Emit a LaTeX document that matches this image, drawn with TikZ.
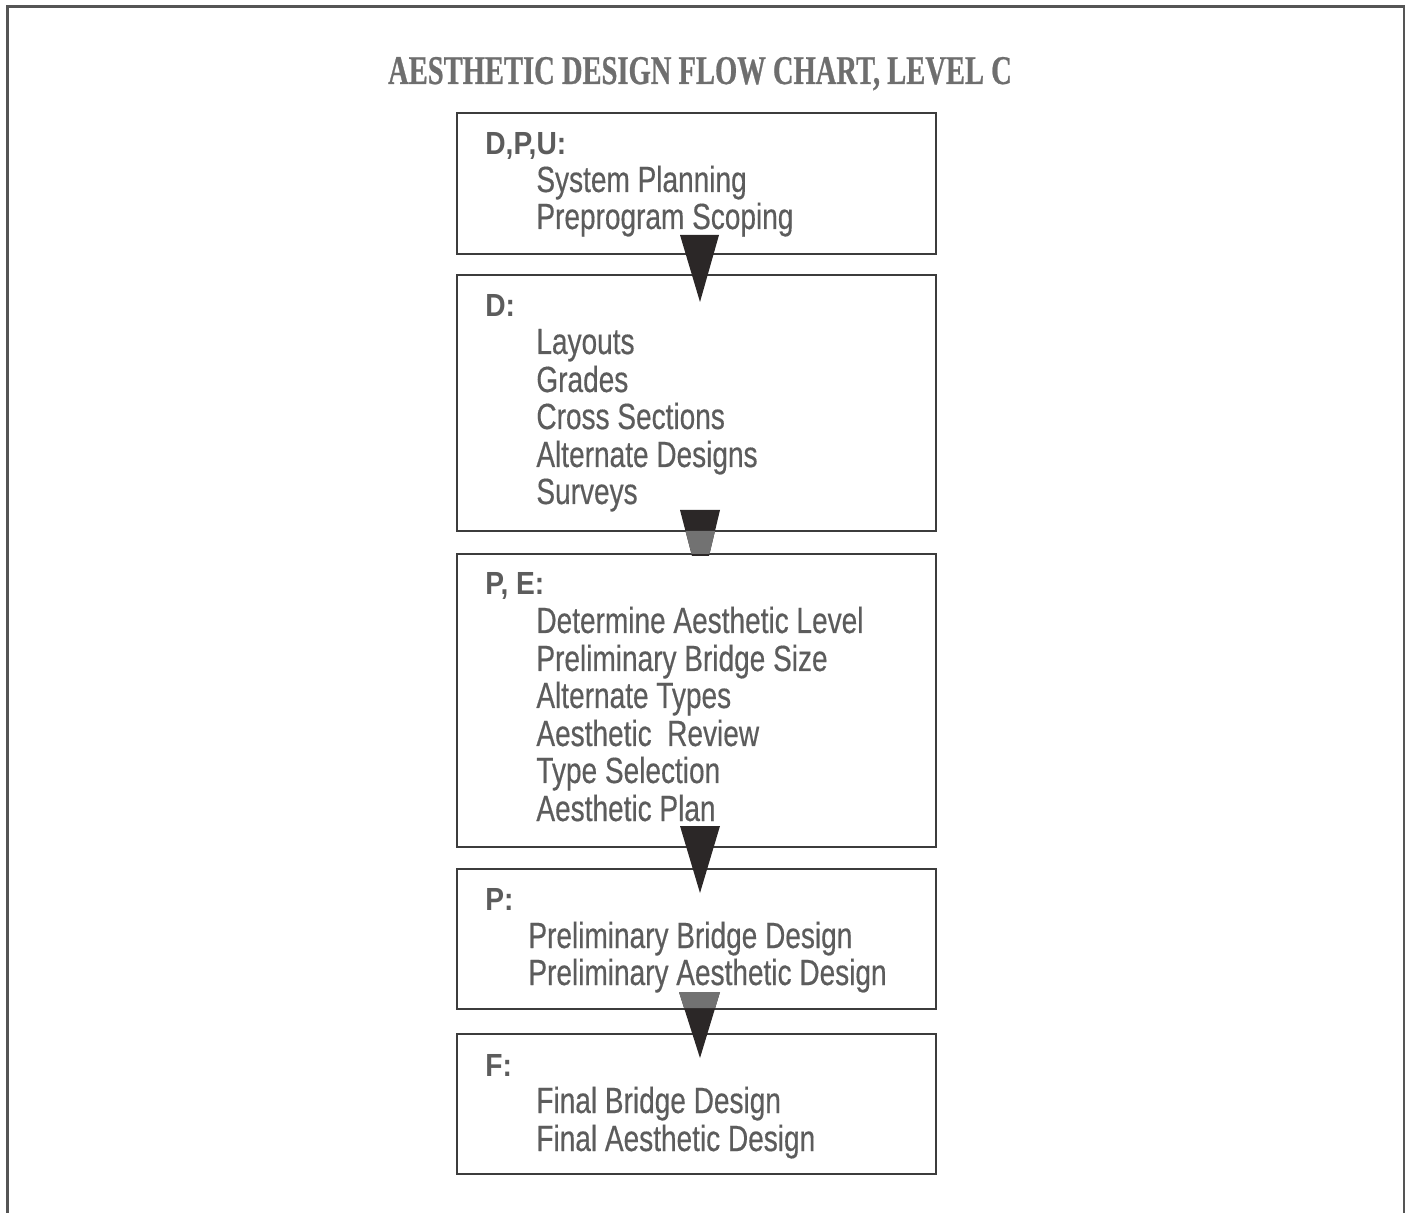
\documentclass[tikz,border=0pt]{standalone}
\usepackage{fontspec}
\setmainfont{Liberation Sans}
\newfontfamily\bodyfont[FakeStretch=0.77,FakeBold=0.4]{Liberation Sans}
\newfontfamily\labfont[FakeStretch=0.88]{Liberation Sans}
\newfontfamily\ttlfont[FakeStretch=0.70,FakeBold=0.6]{Liberation Serif}
\usetikzlibrary{calc}
\definecolor{txtgray}{HTML}{5C5C5C}
\definecolor{ttlgray}{HTML}{6E6E6E}
\definecolor{linegray}{HTML}{3C3C3C}
\definecolor{framegray}{HTML}{555555}
\definecolor{arrowdark}{HTML}{2B2727}
\definecolor{arrowgray}{HTML}{727272}
\begin{document}
\begin{tikzpicture}[x=0.5pt,y=-0.5pt,
  box/.style={draw=linegray,line width=1pt,inner sep=0pt,outer sep=0pt,anchor=north west,minimum width=239.5pt},
  body/.style={anchor=base west,inner sep=0pt,text=txtgray,font=\bodyfont\fontsize{18.2}{20}\selectfont},
  lab/.style={anchor=base west,inner sep=0pt,text=txtgray,font=\labfont\bfseries\fontsize{16}{18}\selectfont},
  ttl/.style={anchor=base,inner sep=0pt,text=ttlgray,font=\ttlfont\bfseries\fontsize{20.4}{22}\selectfont},
  darkfill/.style={fill=arrowdark},
  grayfill/.style={fill=arrowgray}]
\useasboundingbox (0,0) rectangle (1409,1213);
% outer frame (open at bottom)
\draw[framegray,line width=1.2pt] (7.5,1213) -- (7.5,6.5) -- (1404,6.5) -- (1404,1213);
% title
\node[ttl] (title) at (700,84) {AESTHETIC DESIGN FLOW CHART, LEVEL C};
% boxes
\node[box,minimum height=70.5pt] (b1) at (457,113) {};
\node[box,minimum height=128pt] (b2) at (457,275) {};
\node[box,minimum height=146.5pt] (b3) at (457,554) {};
\node[box,minimum height=70pt] (b4) at (457,869) {};
\node[box,minimum height=70pt] (b5) at (457,1034) {};
% box 1
\node[lab] (l1) at (485,155) {D,P,U:};
\node[body] (t11) at (536,192) {System Planning};
\node[body] (t12) at (536,229) {Preprogram Scoping};
% box 2
\node[lab] (l2) at (485,317) {D:};
\node[body] (t21) at (536,354) {Layouts};
\node[body] (t22) at (536,392) {Grades};
\node[body] (t23) at (536,429) {Cross Sections};
\node[body] (t24) at (536,467) {Alternate Designs};
\node[body] (t25) at (536,504) {Surveys};
% box 3
\node[lab] (l3) at (485,595) {P, E:};
\node[body] (t31) at (536,633) {Determine Aesthetic Level};
\node[body] (t32) at (536,671) {Preliminary Bridge Size};
\node[body] (t33) at (536,708) {Alternate Types};
\node[body] (t34) at (536,746) {Aesthetic~ Review};
\node[body] (t35) at (536,783) {Type Selection};
\node[body] (t36) at (536,821) {Aesthetic Plan};
% box 4
\node[lab] (l4) at (485,910) {P:};
\node[body] (t41) at (528,948) {Preliminary Bridge Design};
\node[body] (t42) at (528,985) {Preliminary Aesthetic Design};
% box 5
\node[lab] (l5) at (485,1076) {F:};
\node[body] (t51) at (536,1113) {Final Bridge Design};
\node[body] (t52) at (536,1151) {Final Aesthetic Design};
% arrows
\begin{scope}[shift={(b1.south)}]
  \fill[darkfill] (-16.5,-19) -- (22.5,-19) -- (3.5,48) -- cycle;
\end{scope}
\begin{scope}[shift={(b2.south)}]
  \fill[darkfill] (-16.5,-21) -- (23.5,-21) -- (12.5,25) -- (-4.5,25) -- cycle;
  \fill[grayfill] (-11,0) -- (18.5,0) -- (13,23) -- (-5,23) -- cycle;
\end{scope}
\begin{scope}[shift={(b3.south)}]
  \fill[darkfill] (-16.5,-21) -- (23.5,-21) -- (3.5,46) -- cycle;
\end{scope}
\begin{scope}[shift={(b4.south)}]
  \fill[darkfill] (-17.5,-17) -- (23.5,-17) -- (3.5,49) -- cycle;
  \fill[grayfill] (-17.5,-17) -- (23.5,-17) -- (18.7,-1) -- (-12.5,-1) -- cycle;
\end{scope}
\end{tikzpicture}
\end{document}
